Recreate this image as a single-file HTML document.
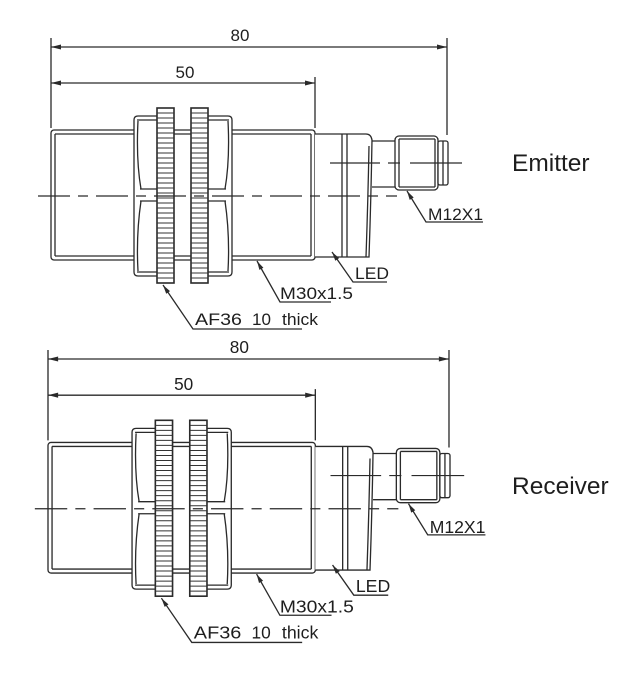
<!DOCTYPE html>
<html>
<head>
<meta charset="utf-8">
<style>
html,body{margin:0;padding:0;background:#fff;}
body{width:630px;height:680px;overflow:hidden;}
svg{display:block;}
text{font-family:"Liberation Sans",Arial,sans-serif;fill:#1e1e1e;}
</style>
</head>
<body>
<svg width="630" height="680" viewBox="0 0 630 680" xmlns="http://www.w3.org/2000/svg">
<defs>
  <g id="teeth">
    <path d="M157,113H174M157,118H174M157,123H174M157,128H174M157,133H174M157,138H174M157,143H174M157,148H174M157,153H174M157,158H174M157,163H174M157,168H174M157,173H174M157,178H174M157,183H174M157,188H174M157,193H174M157,198H174M157,203H174M157,208H174M157,213H174M157,218H174M157,223H174M157,228H174M157,233H174M157,238H174M157,243H174M157,248H174M157,253H174M157,258H174M157,263H174M157,268H174M157,273H174M157,278H174" fill="none" stroke="#333" stroke-width="1"/>
  </g>
  <g id="fig" stroke="#2a2a2a" stroke-width="1.3" fill="none">
    <!-- dimension lines -->
    <path d="M51,38V128M447,38V135M315,77V128M51,47H447M51,83H315"/>
    <polygon points="51,47 61,44.5 61,49.5" fill="#2a2a2a" stroke="none"/>
    <polygon points="447,47 437,44.5 437,49.5" fill="#2a2a2a" stroke="none"/>
    <polygon points="51,83 61,80.5 61,85.5" fill="#2a2a2a" stroke="none"/>
    <polygon points="315,83 305,80.5 305,85.5" fill="#2a2a2a" stroke="none"/>
    <!-- main threaded body -->
    <rect x="51" y="130" width="264" height="130" rx="3" fill="#fff"/>
    <path d="M55,134H311M55,256H311M55,134V256M311,134V256"/>
    <!-- housing -->
    <path d="M315,134H366Q371,134 372,140Q371,200 369,257H315" fill="#fff"/>
    <path d="M369,146Q368,200 366,257M342,134V257M347,134V257"/>
    <!-- neck -->
    <path d="M372,141H395M372,187H395"/>
    <!-- connector -->
    <rect x="395" y="136" width="43" height="54" rx="4" fill="#fff"/>
    <path d="M399,139H435M399,187H435M399,139V187M435,139V187"/>
    <rect x="438" y="141" width="10" height="44" rx="2" fill="#fff"/>
    <path d="M443,141V185"/>
    <!-- nut 1 -->
    <path d="M157,116H138Q134,116 134,120V272Q134,276 138,276H157" fill="#fff"/>
    <path d="M137,120H157M137,272H157M138,121Q136,160 141,189M141,201Q136,235 138,271M140,189H157M140,201H157"/>
    <!-- nut 2 -->
    <path d="M208,116H228Q232,116 232,120V272Q232,276 228,276H208" fill="#fff"/>
    <path d="M208,120H229M208,272H229M228,121Q230,160 225,189M225,201Q230,235 228,271M208,189H226M208,201H226"/>
    <!-- washers -->
    <rect x="157" y="108" width="17" height="175" fill="#fff" stroke-width="1.6"/>
    <rect x="191" y="108" width="17" height="175" fill="#fff" stroke-width="1.6"/>
    <use href="#teeth"/>
    <use href="#teeth" transform="translate(34,0)"/>
    <!-- centerlines -->
    <path d="M38,196H397" stroke-dasharray="32 8 10 8" stroke-width="1.2"/>
    <path d="M330,163H380M388,163H400M410,163H462" stroke-width="1.2"/>
    <!-- leaders -->
    <path d="M407,191L426,222H483"/>
    <polygon points="407,191 409.7,199.9 413.7,197.5" fill="#2a2a2a" stroke="none"/>
    <path d="M332,252L353,282H387"/>
    <polygon points="332,252 335.3,260.7 339.1,258.1" fill="#2a2a2a" stroke="none"/>
    <path d="M257,261L280,302H331"/>
    <polygon points="257,261 259.4,269.9 263.4,267.7" fill="#2a2a2a" stroke="none"/>
    <path d="M163,285L193,329H302"/>
    <polygon points="163,285 166.2,293.7 170,291.1" fill="#2a2a2a" stroke="none"/>
  </g>
</defs>

<!-- Top figure -->
<use href="#fig"/>
<g font-size="17">
  <text x="240" y="41" text-anchor="middle">80</text>
  <text x="185" y="78" text-anchor="middle">50</text>
  <text x="428" y="220" textLength="55" lengthAdjust="spacingAndGlyphs">M12X1</text>
  <text x="355" y="279" textLength="34" lengthAdjust="spacingAndGlyphs">LED</text>
  <text x="280" y="299" textLength="73" lengthAdjust="spacingAndGlyphs">M30x1.5</text>
  <text x="195" y="325" textLength="47" lengthAdjust="spacingAndGlyphs">AF36</text>
  <text x="252" y="325" textLength="19" lengthAdjust="spacingAndGlyphs">10</text>
  <text x="282" y="325" textLength="36" lengthAdjust="spacingAndGlyphs">thick</text>
</g>
<text x="512" y="171" font-size="24.5">Emitter</text>

<!-- Bottom figure -->
<g transform="translate(48,359) scale(1.0126,1.005) translate(-51,-47)">
  <use href="#fig"/>
  <g font-size="17">
    <text x="240" y="41" text-anchor="middle">80</text>
    <text x="185" y="78" text-anchor="middle">50</text>
    <text x="428" y="220" textLength="55" lengthAdjust="spacingAndGlyphs">M12X1</text>
    <text x="355" y="279" textLength="34" lengthAdjust="spacingAndGlyphs">LED</text>
    <text x="280" y="299" textLength="73" lengthAdjust="spacingAndGlyphs">M30x1.5</text>
    <text x="195" y="325" textLength="47" lengthAdjust="spacingAndGlyphs">AF36</text>
    <text x="252" y="325" textLength="19" lengthAdjust="spacingAndGlyphs">10</text>
    <text x="282" y="325" textLength="36" lengthAdjust="spacingAndGlyphs">thick</text>
  </g>
</g>
<text x="512" y="494" font-size="24.5">Receiver</text>
</svg>
</body>
</html>
